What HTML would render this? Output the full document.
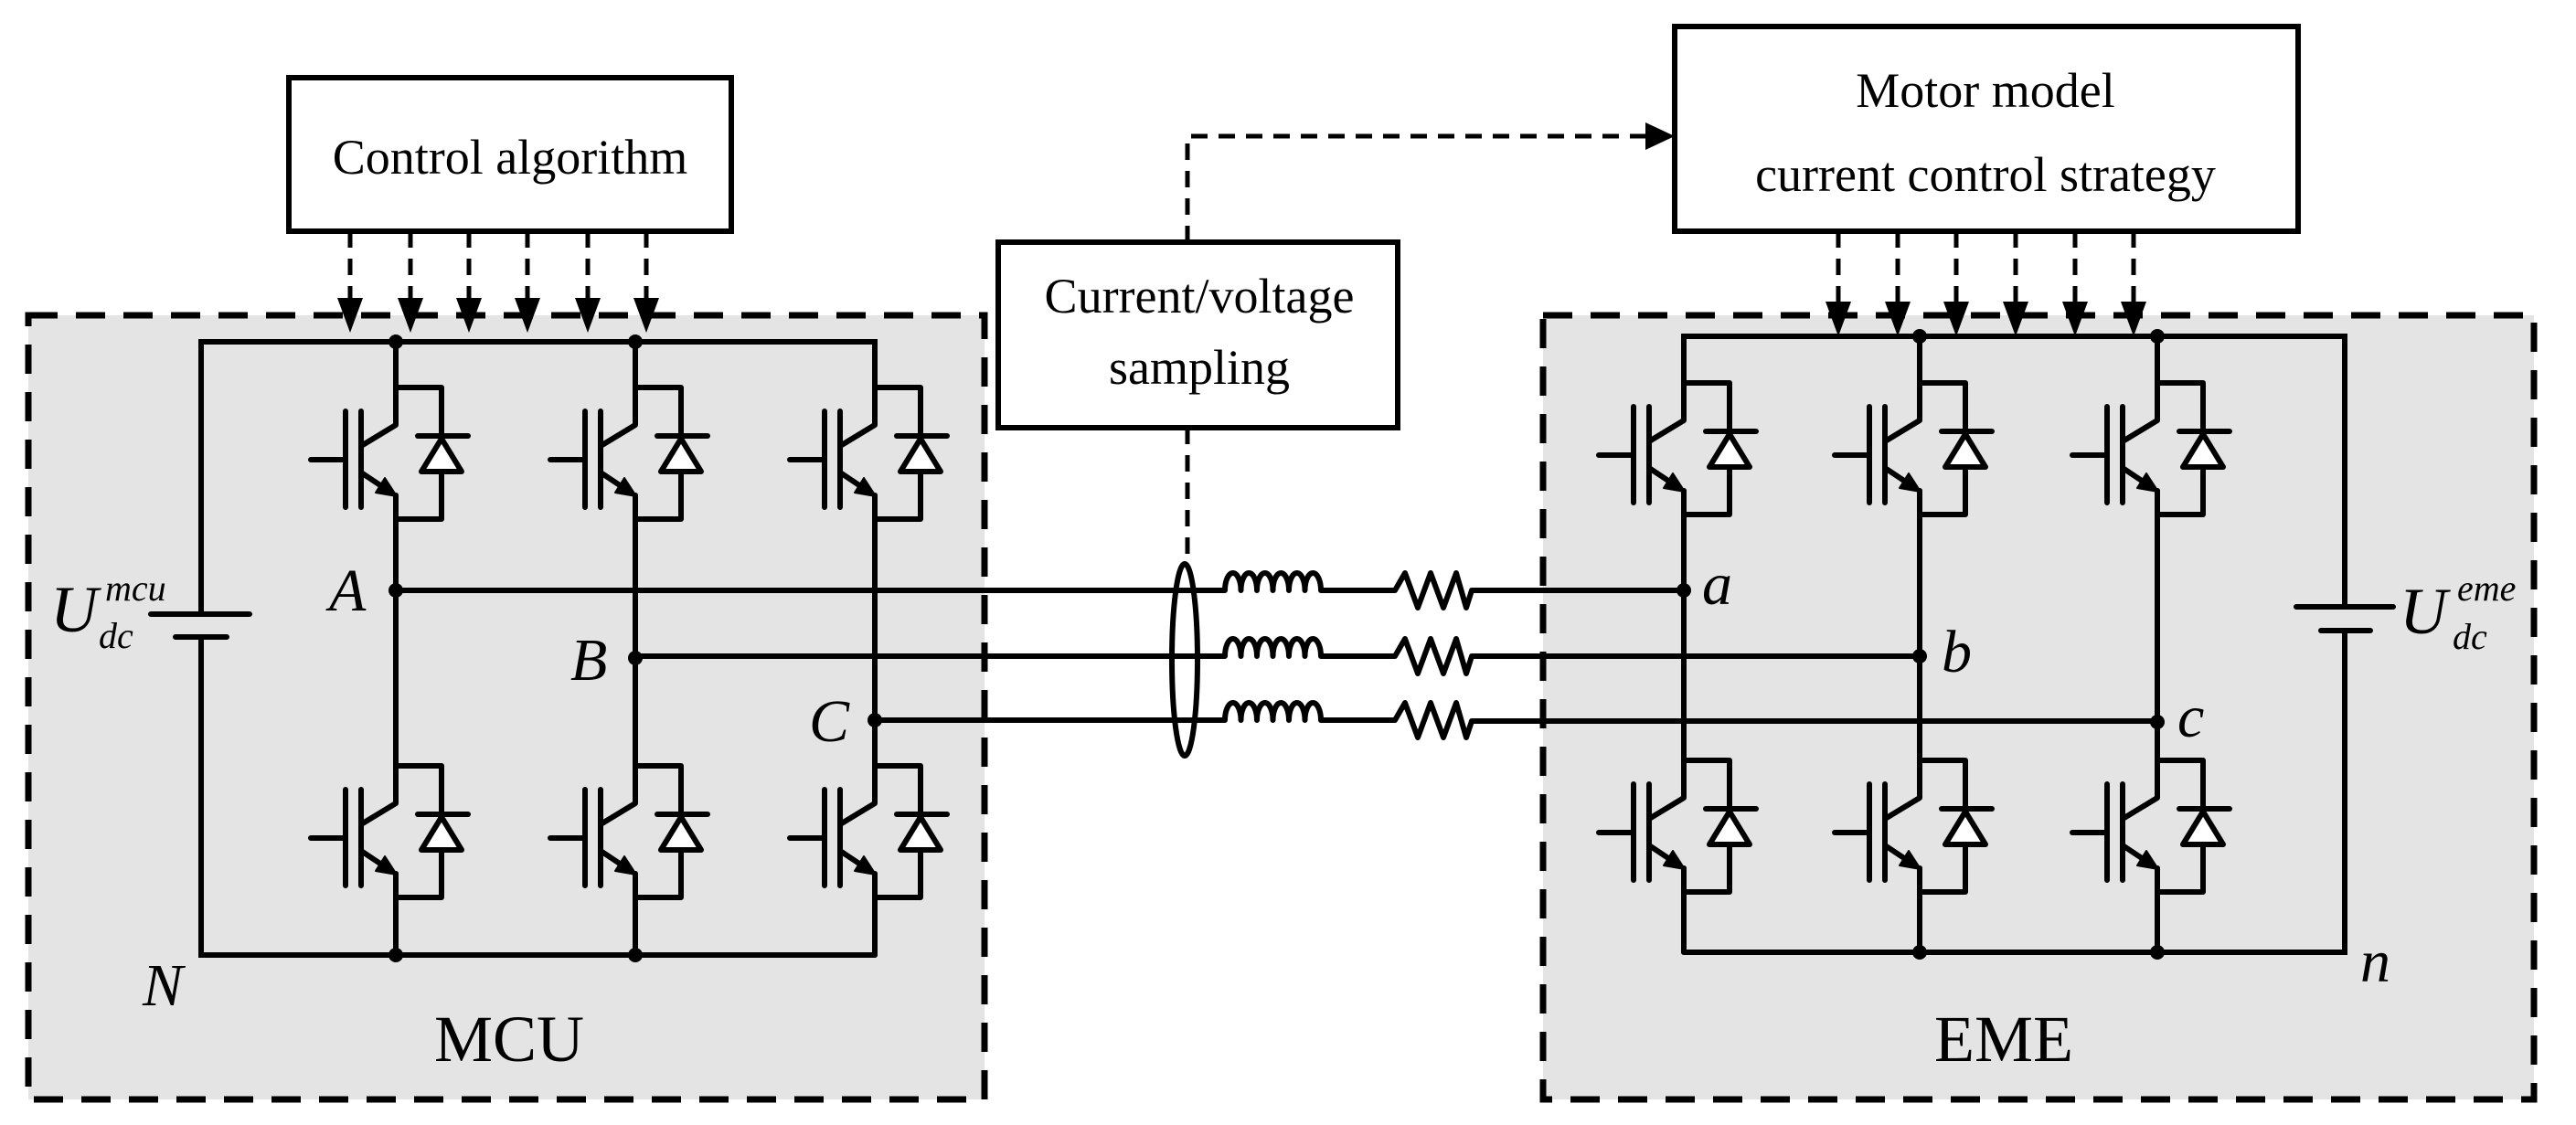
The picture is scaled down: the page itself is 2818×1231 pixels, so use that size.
<!DOCTYPE html>
<html><head><meta charset="utf-8"><style>
html,body{margin:0;padding:0;background:#fff;}
svg{display:block;}
text{font-family:"Liberation Serif","Times New Roman",serif;fill:#000;}
.it{font-style:italic;}
</style></head><body>
<svg width="2818" height="1231" viewBox="0 0 2818 1231" xmlns="http://www.w3.org/2000/svg">
<defs>
<g id="igbt" fill="none" stroke="#000" stroke-width="6" stroke-linecap="round" stroke-linejoin="round">
  <path d="M0,0 H50 V53 M50,92 V144 H0"/>
  <path d="M0,0 V41 L-38,64"/>
  <path d="M-38,26 V131 M-55,26 V131 M-93,79 H-55"/>
  <path d="M-38,93 L-8,113 M0,118 V144"/>
  <polygon points="1,119 -22,115 -12,99" fill="#000" stroke-width="2"/>
  <path d="M24,53 H79"/>
  <polygon points="50,56 28,92 72,92" fill="#fff"/>
</g>
</defs>

<rect x="31" y="345" width="1046" height="858" fill="#e4e4e4" stroke="#000" stroke-width="7" stroke-dasharray="32,20"/>
<rect x="1688" y="345" width="1084" height="858" fill="#e4e4e4" stroke="#000" stroke-width="7" stroke-dasharray="32,20"/>

<rect x="316" y="85" width="484" height="168" fill="#fff" stroke="#000" stroke-width="6"/>
<text x="558" y="190" font-size="54" text-anchor="middle">Control algorithm</text>
<rect x="1832" y="29" width="682" height="224" fill="#fff" stroke="#000" stroke-width="6"/>
<text x="2172" y="117" font-size="54" text-anchor="middle">Motor model</text>
<text x="2172" y="209" font-size="54" text-anchor="middle">current control strategy</text>
<rect x="1092" y="265" width="437" height="203" fill="#fff" stroke="#000" stroke-width="6"/>
<text x="1312" y="342" font-size="54" text-anchor="middle">Current/voltage</text>
<text x="1312" y="420" font-size="54" text-anchor="middle">sampling</text>

<g fill="none" stroke="#000" stroke-width="5" stroke-dasharray="18,12">
  <path d="M1299,265 V149 H1800"/>
  <path d="M1299,468 V618"/>
</g>
<polygon points="1832,149 1800,134 1800,164" fill="#000"/>

<g stroke="#000" stroke-width="5" stroke-dasharray="18,12" fill="none">
  <path d="M383,253 V330 M449,253 V330 M513,253 V330 M577,253 V330 M643,253 V330 M707,253 V330"/>
  <path d="M2011,253 V334 M2076,253 V334 M2140,253 V334 M2205,253 V334 M2270,253 V334 M2334,253 V334"/>
</g>
<g fill="#000">
  <polygon points="369,326 397,326 383,364"/><polygon points="435,326 463,326 449,364"/>
  <polygon points="499,326 527,326 513,364"/><polygon points="563,326 591,326 577,364"/>
  <polygon points="629,326 657,326 643,364"/><polygon points="693,326 721,326 707,364"/>
  <polygon points="1997,330 2025,330 2011,368"/><polygon points="2062,330 2090,330 2076,368"/>
  <polygon points="2126,330 2154,330 2140,368"/><polygon points="2191,330 2219,330 2205,368"/>
  <polygon points="2256,330 2284,330 2270,368"/><polygon points="2320,330 2348,330 2334,368"/>
</g>

<g fill="none" stroke="#000" stroke-width="6" stroke-linecap="round">
  <path d="M220,672 V374 H957 V424"/>
  <path d="M220,697 V1045 H957"/>
  <path d="M165,672 H273 M192,697 H248"/>
  <path d="M433,374 V424 M433,542 V838 M433,956 V1045"/>
  <path d="M695,374 V424 M695,542 V838 M695,956 V1045"/>
  <path d="M957,542 V838 M957,956 V1045"/>
</g>
<use href="#igbt" x="433" y="424"/><use href="#igbt" x="695" y="424"/><use href="#igbt" x="957" y="424"/>
<use href="#igbt" x="433" y="838"/><use href="#igbt" x="695" y="838"/><use href="#igbt" x="957" y="838"/>
<g fill="#000">
  <circle cx="433" cy="374" r="8"/><circle cx="695" cy="374" r="8"/>
  <circle cx="433" cy="1045" r="8"/><circle cx="695" cy="1045" r="8"/>
  <circle cx="433" cy="646" r="8"/><circle cx="695" cy="720" r="8"/><circle cx="957" cy="788" r="8"/>
</g>

<g fill="none" stroke="#000" stroke-width="6" stroke-linecap="round">
  <path d="M1842,419 V368 H2565 V664"/>
  <path d="M2565,690 V1042 H1842"/>
  <path d="M2512,664 H2618 M2539,690 H2593"/>
  <path d="M1842,368 V419 M1842,537 V832 M1842,950 V1042"/>
  <path d="M2100,368 V419 M2100,537 V832 M2100,950 V1042"/>
  <path d="M2360,368 V419 M2360,537 V832 M2360,950 V1042"/>
</g>
<use href="#igbt" x="1842" y="419"/><use href="#igbt" x="2100" y="419"/><use href="#igbt" x="2360" y="419"/>
<use href="#igbt" x="1842" y="832"/><use href="#igbt" x="2100" y="832"/><use href="#igbt" x="2360" y="832"/>
<g fill="#000">
  <circle cx="2100" cy="368" r="8"/><circle cx="2360" cy="368" r="8"/>
  <circle cx="2100" cy="1042" r="8"/><circle cx="2360" cy="1042" r="8"/>
  <circle cx="1842" cy="646" r="8"/><circle cx="2100" cy="718" r="8"/><circle cx="2360" cy="790" r="8"/>
</g>

<g fill="none" stroke="#000" stroke-width="6" stroke-linejoin="round" stroke-linecap="round">
  <path d="M433,646 H1340 a8.75,19 0 0 1 17.5,0 a8.75,19 0 0 1 17.5,0 a8.75,19 0 0 1 17.5,0 a8.75,19 0 0 1 17.5,0 a8.75,19 0 0 1 17.5,0 a8.75,19 0 0 1 17.5,0 H1526 L1537,627 L1551,665 L1565,627 L1579,665 L1593,627 L1604,665 L1610,646 H1842"/>
  <path d="M695,718 H1340 a8.75,19 0 0 1 17.5,0 a8.75,19 0 0 1 17.5,0 a8.75,19 0 0 1 17.5,0 a8.75,19 0 0 1 17.5,0 a8.75,19 0 0 1 17.5,0 a8.75,19 0 0 1 17.5,0 H1526 L1537,699 L1551,737 L1565,699 L1579,737 L1593,699 L1604,737 L1610,718 H2100"/>
  <path d="M957,788 H1340 a8.75,19 0 0 1 17.5,0 a8.75,19 0 0 1 17.5,0 a8.75,19 0 0 1 17.5,0 a8.75,19 0 0 1 17.5,0 a8.75,19 0 0 1 17.5,0 a8.75,19 0 0 1 17.5,0 H1526 L1537,769 L1551,807 L1565,769 L1579,807 L1593,769 L1604,807 L1610,789 H2360"/>
  <ellipse cx="1296" cy="722" rx="14" ry="105"/>
</g>

<text class="it" x="55" y="691" font-size="72">U</text>
<text class="it" x="115" y="657" font-size="40">mcu</text>
<text class="it" x="108" y="709" font-size="40">dc</text>
<text class="it" x="2625" y="693" font-size="72">U</text>
<text class="it" x="2688" y="657" font-size="40">eme</text>
<text class="it" x="2683" y="710" font-size="40">dc</text>
<text class="it" x="360" y="668" font-size="66">A</text>
<text class="it" x="624" y="744" font-size="66">B</text>
<text class="it" x="885" y="811" font-size="66">C</text>
<text class="it" x="1862" y="661" font-size="66">a</text>
<text class="it" x="2124" y="735" font-size="66">b</text>
<text class="it" x="2382" y="806" font-size="66">c</text>
<text class="it" x="156" y="1100" font-size="66">N</text>
<text class="it" x="2582" y="1074" font-size="66">n</text>
<text x="557" y="1161" font-size="72" text-anchor="middle">MCU</text>
<text x="2192" y="1161" font-size="72" text-anchor="middle">EME</text>
</svg>
</body></html>
